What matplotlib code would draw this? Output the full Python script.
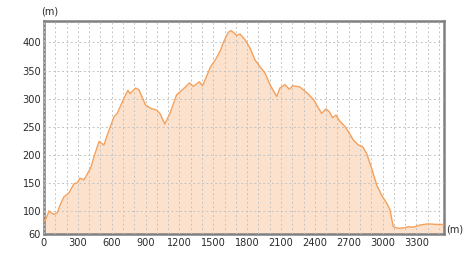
import numpy as np
import matplotlib
matplotlib.use("Agg")
import matplotlib.pyplot as plt
from matplotlib.ticker import MultipleLocator

# distance (m) / elevation (m)
dist = [0, 20, 45, 70, 90, 118, 148, 177, 221, 266, 295, 319, 354, 413, 443,
        487, 531, 561, 620, 649, 708, 744, 762, 812, 841, 900, 945, 998, 1030, 1070,
        1116, 1175, 1220, 1249, 1287, 1323, 1376, 1405, 1441, 1476, 1515, 1559, 1594,
        1633, 1656, 1683, 1707, 1736, 1780, 1825, 1869, 1913, 1957, 2002, 2061, 2090,
        2135, 2173, 2203, 2267, 2327, 2391, 2421, 2460, 2498, 2528, 2557, 2586, 2622,
        2666, 2696, 2740, 2784, 2823, 2858, 2902, 2947, 2991, 3035, 3065, 3094, 3138,
        3197, 3227, 3271, 3330, 3404, 3478, 3545]
elev = [82, 88, 101, 97, 95, 98, 114, 126, 133, 149, 151, 159, 156, 177, 197,
        224, 218, 236, 268, 274, 301, 315, 309, 319, 316, 289, 283, 280, 273, 255,
        274, 307, 315, 320, 328, 322, 330, 323, 340, 357, 368, 384, 402,
        418, 421, 417, 412, 415, 405, 390, 369, 357, 346, 325, 304, 319,
        325, 317, 323, 321, 311, 298, 287, 274, 282, 277, 266, 271, 260,
        251, 242, 227, 218, 215, 203, 177, 147, 129, 115, 103, 73, 70,
        71, 73, 72, 76, 78, 77, 77]

x_ticks = [0, 300, 600, 900, 1200, 1500, 1800, 2100, 2400, 2700, 3000, 3300]
y_ticks = [60, 100, 150, 200, 250, 300, 350, 400]

fsize = 7.8
txt = "#2b2b2b"
plt.rcParams["font.family"] = "DejaVu Sans"
plt.rcParams["font.stretch"] = "condensed"

fig = plt.figure(figsize=(4.73, 2.61), dpi=100)
ax = fig.add_axes([0.093, 0.1034, 0.846, 0.8161])

ax.fill_between(dist, elev, 60, color="#fce1cc", linewidth=0, zorder=1)
ax.plot(dist, elev, color="#f5a05a", linewidth=1.0, zorder=3)

ax.set_xlim(0, 3545)
ax.set_ylim(60, 438)
ax.set_xticks(x_ticks)
ax.set_yticks(y_ticks)
ax.xaxis.set_minor_locator(MultipleLocator(100))
ax.tick_params(which="both", length=0, labelsize=fsize, labelcolor=txt)
ax.tick_params(axis="x", pad=3)
ax.tick_params(axis="y", pad=2)

gstyle = dict(color="#c4c4c4", linestyle=(0, (2, 2.5)), linewidth=0.7)
ax.set_axisbelow(False)
ax.grid(axis="x", which="minor", **gstyle)
ax.grid(axis="x", which="major", **gstyle)
ax.grid(axis="y", which="major", **gstyle)

for s in ax.spines.values():
    s.set_color("#808080")
    s.set_linewidth(1.8)

fig.text(50 / 473, 1 - 11 / 261, "(m)", fontsize=fsize, color=txt, ha="center", va="center")
fig.text(446 / 473, 1 - 230 / 261, "(m)", fontsize=fsize, color=txt, ha="left", va="center")

fig.savefig("out.png", dpi=100)
